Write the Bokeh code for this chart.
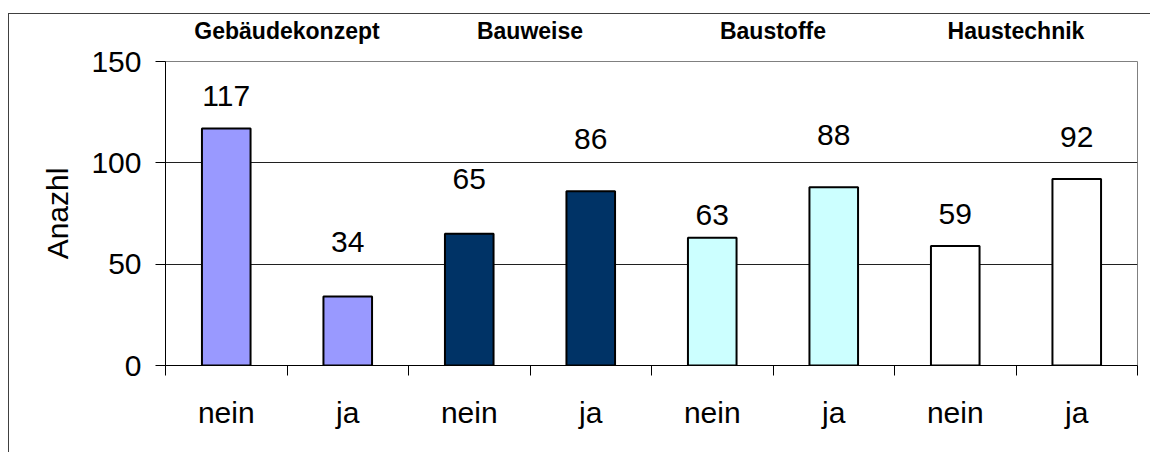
from bokeh.plotting import figure
from bokeh.models import (Range1d, FixedTicker, LinearAxis, CustomJSTickFormatter,
                          ColumnDataSource)
from bokeh.embed import file_html
from bokeh.resources import INLINE
from bokeh.core.properties import value
import numpy as np

# ---- data ----
groups = ["Gebäudekonzept", "Bauweise", "Baustoffe", "Haustechnik"]
answers = ["nein", "ja"]
counts = [117, 34, 65, 86, 63, 88, 59, 92]
y_ticks = [0, 50, 100, 150]

# ---- styles ----
group_colors = ["#9999FF", "#003366", "#CCFFFF", "#FFFFFF"]
label_gap_px = [32, 55, 55, 52, 23, 52, 32, 42]  # label centre distance above bar top
FONT = "Liberation Sans"
BORDER = "#404040"

n = len(counts)
xc = (np.arange(n) + 0.5).tolist()
cat_labels = [a for g in groups for a in answers]
colors = [c for c in group_colors for _ in answers]
group_centers = [2 * i + 1 for i in range(len(groups))]

src = ColumnDataSource(dict(x=xc, top=counts, color=colors,
                            txt=[str(c) for c in counts],
                            yoff=[-g for g in label_gap_px]))

p = figure(width=1150, height=452, x_range=Range1d(0, n), y_range=Range1d(0, 150),
           output_backend="svg", toolbar_location=None,
           min_border_left=165, min_border_right=13, min_border_top=61, min_border_bottom=87)
p.background_fill_color = "white"
p.border_fill_color = None
# outer chart-area border: only its left and top edges lie inside the window
p.styles = {
    "background-color": "white",
    "background-image": f"linear-gradient({BORDER}, {BORDER}), linear-gradient({BORDER}, {BORDER})",
    "background-size": "100% 1px, 1px 100%",
    "background-position": "8px 13px, 8px 13px",
    "background-repeat": "no-repeat",
}
p.outline_line_color = "#808080"
p.outline_line_width = 1

p.vbar(x="x", top="top", width=0.4, bottom=0, fill_color="color",
       line_color="black", line_width=2, source=src)
p.text(x="x", y="top", text="txt", y_offset="yoff", source=src,
       text_font=value(FONT), text_font_size="30px", text_align="center",
       text_baseline="middle", text_color="black")

# y axis
ya = p.yaxis[0]
ya.ticker = FixedTicker(ticks=y_ticks)
ya.major_label_text_font = FONT
ya.major_label_text_font_size = "30px"
ya.major_label_text_color = "black"
ya.major_tick_out = 10
ya.major_tick_in = 0
ya.minor_tick_line_color = None
ya.axis_line_color = "black"
ya.major_tick_line_color = "black"
ya.major_label_standoff = 14
ya.axis_label = "Anazhl"
ya.axis_label_text_font = FONT
ya.axis_label_text_font_size = "30px"
ya.axis_label_text_font_style = "normal"
ya.axis_label_text_color = "black"
ya.axis_label_standoff = 14

p.ygrid.ticker = FixedTicker(ticks=y_ticks)
p.ygrid.grid_line_color = "#202020"
p.xgrid.grid_line_color = None

# x axis (below)
xa = p.xaxis[0]
xa.ticker = FixedTicker(ticks=xc, minor_ticks=list(range(n + 1)))
xa.formatter = CustomJSTickFormatter(args=dict(labels=cat_labels),
                                     code="return labels[Math.floor(tick)];")
xa.major_tick_out = 0
xa.major_tick_in = 0
xa.minor_tick_out = 10
xa.minor_tick_in = 0
xa.minor_tick_line_color = "black"
xa.axis_line_color = "black"
xa.major_label_text_font = FONT
xa.major_label_text_font_size = "30px"
xa.major_label_text_color = "black"
xa.major_label_standoff = 20

# group labels (above)
ga = LinearAxis(ticker=FixedTicker(ticks=group_centers),
                formatter=CustomJSTickFormatter(args=dict(labels=groups),
                                                code="return labels[Math.floor(tick / 2)];"))
ga.axis_line_color = None
ga.major_tick_line_color = None
ga.minor_tick_line_color = None
ga.major_label_text_font = FONT
ga.major_label_text_font_size = "23px"
ga.major_label_text_font_style = "bold"
ga.major_label_text_color = "black"
ga.major_label_standoff = 12
p.add_layout(ga, "above")

open("out.html", "w").write(file_html(p, INLINE))
